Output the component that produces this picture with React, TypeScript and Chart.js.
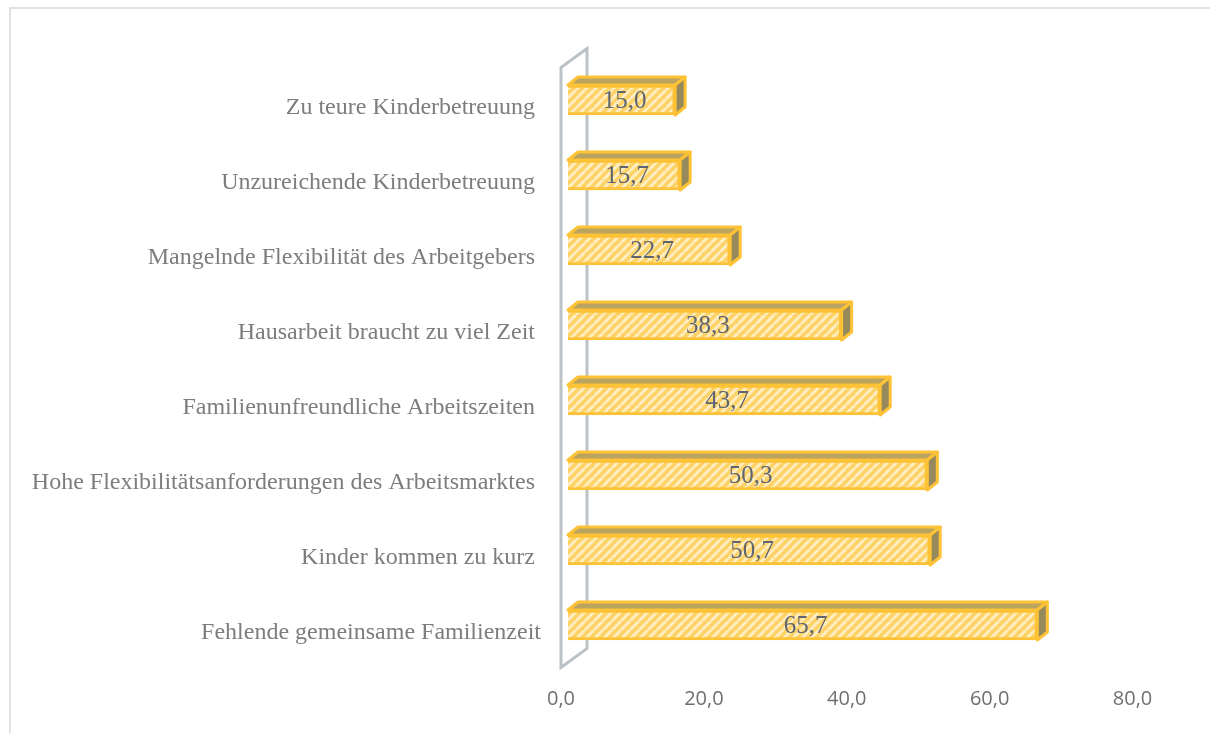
import React, { useEffect, useRef } from "react";
import { Chart, registerables } from "chart.js";

Chart.register(...registerables);

const categories = [
  "Zu teure Kinderbetreuung",
  "Unzureichende Kinderbetreuung",
  "Mangelnde Flexibilität des Arbeitgebers",
  "Hausarbeit braucht zu viel Zeit",
  "Familienunfreundliche Arbeitszeiten",
  "Hohe Flexibilitätsanforderungen des Arbeitsmarktes",
  "Kinder kommen zu kurz",
  "Fehlende gemeinsame Familienzeit",
];
const values = [15.0, 15.7, 22.7, 38.3, 43.7, 50.3, 50.7, 65.7];
const tickStep = 20;
const axisMax = 80;

const fmt = (v: number) => v.toFixed(1).replace(".", ",");

function hatch(ctx: CanvasRenderingContext2D) {
  const c = document.createElement("canvas");
  c.width = 9;
  c.height = 9;
  const p = c.getContext("2d")!;
  p.fillStyle = "#fdd266";
  p.fillRect(0, 0, 9, 9);
  p.strokeStyle = "#ffeec2";
  p.lineWidth = 3;
  for (const o of [-9, 0, 9]) {
    p.beginPath();
    p.moveTo(o, 9);
    p.lineTo(o + 9, 0);
    p.stroke();
  }
  return ctx.createPattern(c, "repeat")!;
}

const DX = 10;
const DY = 8;

const frame = {
  id: "frame",
  beforeDraw(chart: any) {
    const { ctx, width, chartArea: a } = chart;
    ctx.save();
    ctx.fillStyle = "#fff";
    ctx.fillRect(0, 0, width, chart.height);
    ctx.strokeStyle = "#e2e2e2";
    ctx.lineWidth = 2;
    ctx.beginPath();
    ctx.moveTo(10, chart.height);
    ctx.lineTo(10, 8);
    ctx.lineTo(width, 8);
    ctx.stroke();
    // side wall of the 3D plot
    const x0 = a.left - 7;
    const x1 = a.left + 19;
    ctx.strokeStyle = "#bcc3c7";
    ctx.lineWidth = 3;
    ctx.lineJoin = "miter";
    ctx.beginPath();
    ctx.moveTo(x0, a.top + 5);
    ctx.lineTo(x1, a.top - 14);
    ctx.lineTo(x1, a.bottom - 14);
    ctx.lineTo(x0, a.bottom + 5);
    ctx.closePath();
    ctx.stroke();
    ctx.restore();
  },
};

const bars3d = {
  id: "bars3d",
  afterDatasetsDraw(chart: any) {
    const { ctx } = chart;
    const meta = chart.getDatasetMeta(0);
    ctx.save();
    meta.data.forEach((b: any, i: number) => {
      const top = b.y - b.height / 2;
      const bot = b.y + b.height / 2;
      const l = b.base;
      const r = b.x;
      ctx.lineWidth = 3;
      ctx.strokeStyle = "#fdc235";
      ctx.lineJoin = "round";
      ctx.fillStyle = "#bba45f";
      ctx.beginPath();
      ctx.moveTo(l, top);
      ctx.lineTo(l + DX, top - DY);
      ctx.lineTo(r + DX, top - DY);
      ctx.lineTo(r, top);
      ctx.closePath();
      ctx.fill();
      ctx.stroke();
      ctx.fillStyle = "#968a5c";
      ctx.beginPath();
      ctx.moveTo(r, top);
      ctx.lineTo(r + DX, top - DY);
      ctx.lineTo(r + DX, bot - DY);
      ctx.lineTo(r, bot);
      ctx.closePath();
      ctx.fill();
      ctx.stroke();
      ctx.fillStyle = "#5f6570";
      ctx.font = '25px "Liberation Serif"';
      ctx.textAlign = "center";
      ctx.textBaseline = "middle";
      ctx.fillText(fmt(values[i]), (l + r) / 2 + 3, b.y + 1);
    });
    ctx.restore();
  },
};

export default function App() {
  const ref = useRef<HTMLCanvasElement>(null);
  useEffect(() => {
    document.body.style.margin = "0";
    const ctx = ref.current!.getContext("2d")!;
    const chart = new Chart(ctx, {
      type: "bar",
      data: {
        labels: categories,
        datasets: [
          {
            data: values,
            backgroundColor: hatch(ctx),
            borderColor: "#fdc235",
            borderWidth: 3,
            barThickness: 30,
          },
        ],
      },
      options: {
        indexAxis: "y",
        animation: false,
        responsive: false,
        layout: { padding: { top: 62.5, right: 70.5, left: 0, bottom: 0 } },
        plugins: { legend: { display: false }, tooltip: { enabled: false } },
        scales: {
          x: {
            min: 0,
            max: axisMax,
            grid: { display: false },
            border: { display: false },
            afterFit: (s: any) => {
              s.height = 70.5;
            },
            ticks: {
              stepSize: tickStep,
              maxRotation: 0,
              padding: 17,
              labelOffset: -7,
              color: "#6f6f6f",
              font: { family: '"Open Sans"', size: 20 },
              callback: (v: any) => fmt(Number(v)),
            },
          },
          y: {
            grid: { display: false },
            border: { display: false },
            afterFit: (s: any) => {
              s.width = 568;
            },
            ticks: {
              padding: 19,
              labelOffset: 8,
              autoSkip: false,
              color: "#7d7d7d",
              font: { family: '"Liberation Serif"', size: 24 },
              callback: (_v: any, i: number) =>
                categories[i] + (i === categories.length - 1 ? "" : " "),
            },
          },
        },
      },
      plugins: [frame, bars3d],
    } as any);
    return () => chart.destroy();
  }, []);
  return <canvas ref={ref} width={1210} height={733} style={{ display: "block" }} />;
}
